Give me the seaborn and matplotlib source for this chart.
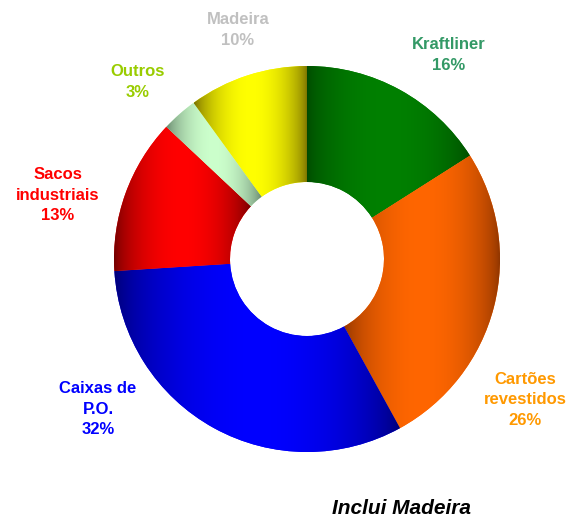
import numpy as np
import matplotlib
matplotlib.use("Agg")
import matplotlib.pyplot as plt
import matplotlib.colors as mcolors
import seaborn as sns

# Data (clockwise from 12 o'clock)
categories = ["Kraftliner", "Cartões\nrevestidos", "Caixas de\nP.O.", "Sacos\nindustriais", "Outros", "Madeira"]
shares = [16, 26, 32, 13, 3, 10]
bright_colors = ["#008000", "#FF6600", "#0000FF", "#FF0000", "#CCFFCC", "#FFFF00"]
dark_colors = ["#004A00", "#8A3300", "#000070", "#6A0000", "#5E7A64", "#6E6400"]
label_colors = ["#339966", "#FF9900", "#0000FF", "#FF0000", "#99CC00", "#C0C0C0"]
# label centres in pixel coordinates (x, y from top)
label_pos = [(449, 55), (525, 400), (98, 409), (58, 195), (138, 82), (238, 30)]

W, H = 577, 520

sns.set_theme(style="white")
plt.rcParams['font.family'] = ['Liberation Sans', 'DejaVu Sans']

fig = plt.figure(figsize=(W / 100, H / 100), dpi=100)
ax = fig.add_axes([0, 0, 1, 1])

wedges, _ = ax.pie(shares, center=(307, H - 259), radius=193, startangle=90,
                   counterclock=False, colors=bright_colors,
                   wedgeprops=dict(width=116, linewidth=0))

# cylinder-like horizontal shading inside each wedge
t = np.linspace(0, 1, 200)
shade = np.clip(np.sin(np.pi * t) ** 0.6, 0, 1)
for w, c_hi, c_lo in zip(wedges, bright_colors, dark_colors):
    hi = np.array(mcolors.to_rgb(c_hi))
    lo = np.array(mcolors.to_rgb(c_lo))
    img = lo[None, None, :] + (hi - lo)[None, None, :] * shade[None, :, None]
    ext = w.get_path().get_extents()
    im = ax.imshow(img, extent=(ext.x0, ext.x1, ext.y0, ext.y1), aspect='auto',
                   interpolation='bilinear', zorder=w.get_zorder() + 0.1)
    im.set_clip_path(w)

for name, pct, col, (px, py) in zip(categories, shares, label_colors, label_pos):
    ax.text(px, H - py, f"{name}\n{pct}%", ha='center', va='center', color=col,
            fontsize=12, fontweight='bold', linespacing=1.45)

ax.text(401, H - 508, "Inclui Madeira", ha='center', va='center', color='black',
        fontsize=15, fontweight='bold', fontstyle='italic')

ax.set_xlim(0, W)
ax.set_ylim(0, H)
ax.set_aspect('equal')
ax.axis('off')

fig.savefig("out.png", dpi=100, facecolor='white')
